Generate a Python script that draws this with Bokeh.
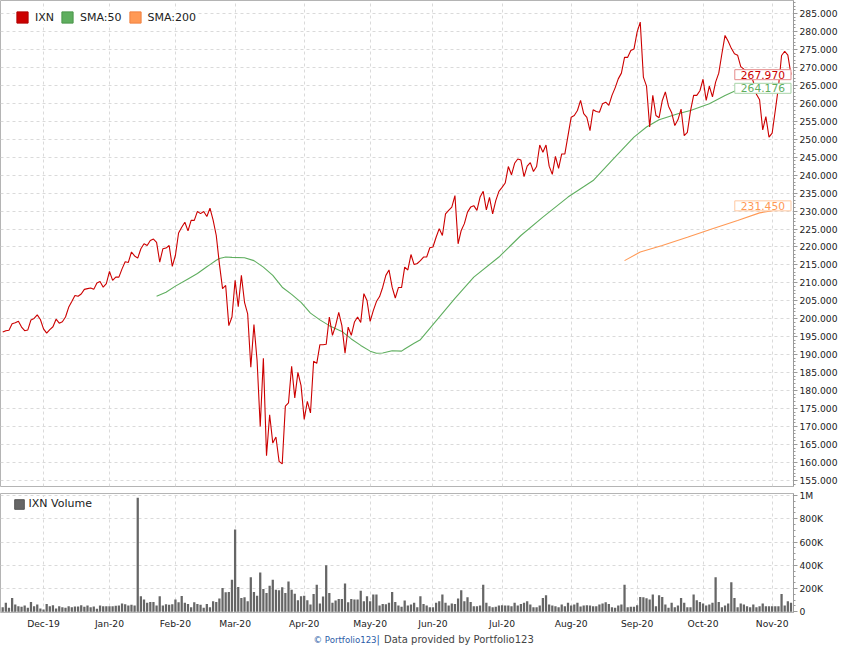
from bokeh.plotting import figure
from bokeh.models import (FixedTicker, Legend, LegendItem, Label, PrintfTickFormatter, Range1d)
from bokeh.core.properties import value
from bokeh.layouts import column
from bokeh.embed import file_html
from bokeh.resources import INLINE

FONT = "DejaVu Sans"

# ---------------- data (one value per trading day, Nov-2019 .. Nov-2020) -------------
month_labels = ["Dec-19", "Jan-20", "Feb-20", "Mar-20", "Apr-20", "May-20",
                "Jun-20", "Jul-20", "Aug-20", "Sep-20", "Oct-20", "Nov-20"]
month_pos = [13, 34, 55, 74, 96, 117, 137, 159, 181, 202, 223, 245]

price = [
    196.3, 196.7, 196.8, 198.6, 198.9, 199.3, 197.7, 196.7, 196.9, 199.7,
    200.1, 201.1, 199.8, 197.2, 196.0, 197.0, 197.8, 199.9, 198.8, 199.2,
    200.5, 203.2, 204.8, 206.5, 206.3, 206.9, 208.2, 208.4, 208.6, 208.2,
    210.0, 210.4, 208.8, 209.8, 213.2, 210.7, 211.6, 211.6, 213.9, 215.9,
    215.7, 218.6, 217.5, 216.9, 219.5, 220.9, 220.4, 221.8, 222.2, 221.3,
    215.8, 219.5, 219.7, 220.4, 214.6, 217.7, 223.9, 225.5, 226.9, 224.5,
    227.4, 227.4, 229.9, 229.3, 229.9, 228.5, 230.8,
    227.5, 223.2, 215.3, 208.4, 209.3, 198.1, 200.5, 210.7, 203.4, 212.1,
    204.6, 201.4, 186.5, 198.4, 188.4, 170.0, 189.0, 161.9, 173.3, 165.4,
    167.1, 160.3, 159.6, 175.7, 176.6, 186.8, 178.0, 185.1, 181.4, 172.0,
    177.0, 173.8, 188.2, 187.6, 192.8, 192.8, 192.9, 200.5, 195.4, 198.1,
    201.8, 198.1, 190.4, 197.7, 195.4, 199.1, 200.5, 199.0, 207.0, 205.1,
    199.3, 202.3, 204.8, 206.2, 208.8, 212.1, 213.6, 208.8, 205.8, 208.7,
    208.7, 214.4, 213.6, 217.9, 215.1, 215.4, 216.2,
    217.2, 217.2, 219.8, 220.0, 222.7, 225.1, 223.2, 229.2, 230.2, 231.1,
    234.3, 220.9, 224.6, 226.5, 229.7, 231.1, 231.5, 230.2, 233.9, 235.5,
    230.3, 233.8, 229.2, 232.9, 235.5, 236.6, 237.8, 242.4, 240.1, 243.3,
    244.5, 244.2, 239.6, 242.5, 243.5, 241.0, 242.4, 248.4, 246.4, 248.4,
    242.5, 240.2, 245.2, 241.9, 245.9, 245.9, 251.0, 256.1, 256.6, 258.0,
    260.8, 257.1, 256.1, 252.4, 258.2, 257.7, 257.5, 259.9, 260.3, 259.4,
    262.2, 264.3, 266.8, 268.4, 272.8, 272.8, 274.7, 275.1, 279.8, 282.6,
    267.3, 264.8, 253.4, 262.2, 256.6, 256.0, 260.7, 263.2, 259.2, 257.4,
    253.8, 255.4, 258.4, 251.0, 251.9, 257.9, 262.2, 262.2, 263.5, 266.7,
    260.8, 264.8, 261.8, 265.9, 268.4, 273.8, 278.9, 277.3, 275.3, 273.8,
    273.4, 270.2, 269.5, 269.0, 268.5, 266.0, 262.5, 261.0, 252.6, 256.3,
    250.6, 251.7, 258.0, 264.5, 273.3, 274.5, 273.4, 267.97,
]

# volume in thousands of shares
volume_k = [
    40, 77, 34, 119, 63, 48, 43, 54, 34, 85, 48, 63, 28, 20, 68, 48, 57, 28, 48, 40,
    34, 48, 40, 45, 45, 57, 43, 54, 40, 45, 26,
    54, 48, 48, 48, 48, 51, 54, 71, 65, 54, 60, 54, 980, 134, 105, 77, 85, 85, 54,
    134, 54, 65, 60, 65, 105, 82, 136, 77, 68, 40, 82, 68, 60, 34, 68, 40, 91, 85, 114,
    205, 168, 171, 276, 708, 213, 119, 125, 91, 298, 171, 139, 338, 196, 162, 225, 276, 190, 185, 210,
    162, 261, 190, 156, 100, 134, 139, 100, 63, 153, 233, 71, 131, 400, 162, 77, 97, 111, 111, 244,
    82, 111, 105, 105, 182, 91, 134, 91, 148, 148, 54, 68, 65, 77, 171, 85, 54, 43, 97, 54,
    63, 77, 40,
    134, 68, 54, 40, 40, 77, 91, 148, 77, 54, 71, 68, 114, 185, 91, 125, 85, 48, 48, 54,
    233, 77, 48, 40, 43, 54, 57, 54, 54, 48, 77, 54, 68, 77, 91, 63, 40, 40, 54, 119,
    142, 63, 54, 48, 40, 63, 48, 77, 54, 63, 77, 45, 54, 57, 54, 48, 48, 63, 71, 82,
    68, 40, 34, 54, 63, 233, 40, 43, 43, 57, 128, 125, 117, 105, 148, 48, 142, 128, 63, 34,
    77, 40, 54, 119, 77, 40, 40, 148, 100, 85, 71, 54, 63, 77, 298, 85, 40, 54, 71, 253,
    119, 40, 71, 63, 48, 40, 63, 40, 48, 71, 48, 48, 48, 48, 48, 153, 54, 91, 77,
]

# moving averages (trading-day index, value)
sma50_idx = [49, 52, 55, 59, 62, 65, 66, 68, 69, 71, 73, 77, 80, 83, 86, 89, 92, 95, 98,
             101, 104, 108, 111, 114, 117, 119, 121, 124, 127, 128, 131, 133, 144, 150,
             158, 165, 172, 180, 188, 194, 201, 205, 209, 215, 219, 225, 230, 234, 251]
sma50_val = [206.3, 207.4, 209.1, 211.1, 212.6, 214.5, 215.1, 216.3, 216.8, 217.2, 217.1,
             217.0, 216.2, 214.4, 212.1, 208.8, 206.8, 204.6, 201.6, 199.7, 198.1, 196.5,
             194.4, 192.6, 191.0, 190.4, 190.5, 191.1, 191.0, 191.6, 193.2, 194.2, 205.7,
             211.6, 217.2, 223.2, 228.3, 233.9, 238.5, 244.1, 250.6, 253.4, 255.4, 257.1,
             258.0, 259.9, 262.2, 263.8, 264.176]

sma200_idx = [198, 203, 210, 218, 226, 234, 241, 245, 251]
sma200_val = [216.2, 218.6, 220.4, 222.7, 225.1, 227.4, 229.5, 230.1, 231.45]

vol_ticks = [0, 200, 400, 600, 800, 1000]
vol_tick_labels = ["0", "200K", "400K", "600K", "800K", "1M"]

footer_parts = ["\u00a9 Portfolio123", "|", "Data provided by Portfolio123"]

idx = list(range(len(price)))

RED = "#cc0000"
GREEN = "#5fae5f"
ORANGE = "#ff9955"
GRID = "#dadada"
OUTLINE = "#b4b4b4"
AXIS = "#9a9a9a"
TXT = "#222222"

# ---------------- price panel ----------------
p = figure(width=845, height=487, output_backend="svg", toolbar_location=None,
           x_range=Range1d(-0.7, 251.8), y_range=Range1d(153.32, 288.62),
           x_axis_location=None, y_axis_location="right",
           min_border_left=0, min_border_right=52, min_border_top=0, min_border_bottom=1)
p.background_fill_color = "white"
p.border_fill_color = "white"
p.outline_line_color = OUTLINE

p.xgrid.ticker = FixedTicker(ticks=month_pos)
for g in (p.xgrid, p.ygrid):
    g.grid_line_color = GRID
    g.grid_line_dash = "3 3"

p.yaxis.ticker = FixedTicker(ticks=list(range(155, 290, 5)), minor_ticks=list(range(154, 289)))
p.yaxis.formatter = PrintfTickFormatter(format="%.3f")
p.yaxis.major_label_text_font = FONT
p.yaxis.major_label_text_font_size = "9.2px"
p.yaxis.major_label_text_color = TXT
p.yaxis.axis_line_color = AXIS
p.yaxis.major_tick_line_color = AXIS
p.yaxis.minor_tick_line_color = AXIS
p.yaxis.major_tick_in = 0
p.yaxis.major_tick_out = 4
p.yaxis.minor_tick_in = 0
p.yaxis.minor_tick_out = 2
p.yaxis.major_label_standoff = 2

p.line(sma200_idx, sma200_val, color=ORANGE, line_width=1.1)
p.line(sma50_idx, sma50_val, color=GREEN, line_width=1.1)
p.line(idx, price, color=RED, line_width=1.1)

# legend swatches (placed outside the visible x range, only used by the legend)
OFF = dict(left=[-60], right=[-59], top=[200], bottom=[199])
sq_ixn = p.quad(**OFF, fill_color=RED, line_color="#b00000")
sq_s50 = p.quad(**OFF, fill_color=GREEN, line_color="#4a964a")
sq_s200 = p.quad(**OFF, fill_color=ORANGE, line_color="#f08040")

leg = Legend(items=[LegendItem(label="IXN", renderers=[sq_ixn]),
                    LegendItem(label="SMA:50", renderers=[sq_s50]),
                    LegendItem(label="SMA:200", renderers=[sq_s200])],
             orientation="horizontal", location=(15, 462),
             glyph_width=14, glyph_height=14, label_height=14, label_width=10,
             label_standoff=6, spacing=6, padding=2, margin=0,
             border_line_color=None, background_fill_color="white", background_fill_alpha=1,
             label_text_font=FONT, label_text_font_size="11px", label_text_color=TXT)
p.add_layout(leg)

last_vals = [(price[-1], "%.3f" % price[-1], RED, "#e58a8a"),
             (sma50_val[-1], "%.3f" % sma50_val[-1], GREEN, "#a8d4a8"),
             (sma200_val[-1], "%.3f" % sma200_val[-1], ORANGE, "#ffc8a0")]
for val, txt, col, bcol in last_vals:
    p.add_layout(Label(x=idx[-1], y=val, text=txt, text_align="right", text_baseline="middle",
                       text_font=FONT, text_font_size="10.7px", text_color=col,
                       background_fill_color="white", background_fill_alpha=1,
                       border_line_color=bcol, border_line_width=1, padding=(6, 1)))

# ---------------- volume panel ----------------
v = figure(width=845, height=144, output_backend="svg", toolbar_location=None,
           x_range=Range1d(-0.7, 251.8), y_range=Range1d(-6, 1017),
           x_axis_location="below", y_axis_location="right",
           min_border_left=0, min_border_right=52, min_border_top=6, min_border_bottom=18)
v.background_fill_color = "white"
v.border_fill_color = "white"
v.outline_line_color = OUTLINE

v.vbar(x=idx, top=volume_k, bottom=0, width=0.72, fill_color="#666666", line_color=None)

v.xaxis.ticker = FixedTicker(ticks=month_pos)
v.xaxis.major_label_overrides = {pos: lab for pos, lab in zip(month_pos, month_labels)}
v.xaxis.axis_line_color = None
v.xaxis.major_tick_line_color = None
v.xaxis.minor_tick_line_color = None
v.xaxis.major_tick_out = 0
v.xaxis.major_tick_in = 0
v.xaxis.minor_tick_out = 0
v.xaxis.major_label_standoff = 5
v.xaxis.major_label_text_font = FONT
v.xaxis.major_label_text_font_size = "9.2px"
v.xaxis.major_label_text_color = TXT

v.yaxis.ticker = FixedTicker(ticks=vol_ticks, minor_ticks=list(range(0, 1001, 50)))
v.yaxis.major_label_overrides = {t: lab for t, lab in zip(vol_ticks, vol_tick_labels)}
v.yaxis.major_label_text_font = FONT
v.yaxis.major_label_text_font_size = "9.2px"
v.yaxis.major_label_text_color = TXT
v.yaxis.axis_line_color = AXIS
v.yaxis.major_tick_line_color = AXIS
v.yaxis.minor_tick_line_color = AXIS
v.yaxis.major_tick_in = 0
v.yaxis.major_tick_out = 4
v.yaxis.minor_tick_in = 0
v.yaxis.minor_tick_out = 2
v.yaxis.major_label_standoff = 2

for g in (v.xgrid, v.ygrid):
    g.grid_line_color = GRID
    g.grid_line_dash = "3 3"

sq_vol = v.quad(left=[-60], right=[-59], top=[100], bottom=[99],
                fill_color="#666666", line_color="#555555")
vleg = Legend(items=[LegendItem(label="IXN Volume", renderers=[sq_vol])],
              orientation="horizontal", location=(12.5, 102),
              glyph_width=12, glyph_height=12, label_height=12, label_width=10,
              label_standoff=4, spacing=6, padding=2, margin=0,
              border_line_color=None, background_fill_color="white", background_fill_alpha=1,
              label_text_font=FONT, label_text_font_size="11px", label_text_color=TXT)
v.add_layout(vleg)

# ---------------- footer (pixel coordinates across the 793 px frame) ----------------
f = figure(width=845, height=19, output_backend="svg", toolbar_location=None,
           x_range=Range1d(0, 793), y_range=Range1d(0, 19),
           x_axis_location=None, y_axis_location=None,
           min_border_left=0, min_border_right=52, min_border_top=0, min_border_bottom=0)
f.outline_line_color = None
f.background_fill_color = "white"
f.border_fill_color = "white"
f.xgrid.visible = False
f.ygrid.visible = False
f.text(x=[313], y=[11], text=[footer_parts[0]], text_font=value(FONT), text_font_size="8.6px",
       text_color="#2b5ca8", text_baseline="middle", text_align="left")
f.text(x=[376], y=[11], text=[footer_parts[1]], text_font=value(FONT), text_font_size="10px",
       text_color="#2b5ca8", text_baseline="middle", text_align="left")
f.text(x=[383.5], y=[11], text=[footer_parts[2]], text_font=value(FONT), text_font_size="10px",
       text_color="#444444", text_baseline="middle", text_align="left")

layout = column(p, v, f, spacing=0)
open("out.html", "w").write(file_html(layout, INLINE))
